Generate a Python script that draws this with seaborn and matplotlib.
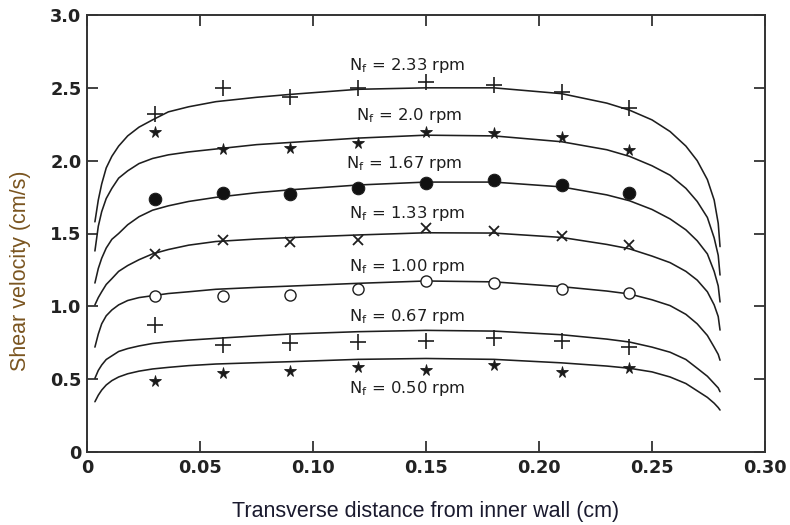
import numpy as np
import pandas as pd
import matplotlib
matplotlib.use("Agg")
import matplotlib.pyplot as plt
import seaborn as sns

# Model profiles of shear velocity across the annular gap (cm, cm/s)
curve_x = [0.0035, 0.005, 0.0065, 0.0085, 0.011, 0.014, 0.018, 0.023, 0.029,
           0.036, 0.045, 0.057, 0.075, 0.09, 0.12, 0.15, 0.18, 0.21, 0.23,
           0.24, 0.25, 0.258, 0.265, 0.27, 0.2745, 0.2775, 0.2793, 0.2801]

curve_233 = [1.58, 1.73, 1.84, 1.95, 2.03, 2.10, 2.17, 2.23, 2.28, 2.335, 2.37,
             2.405, 2.435, 2.455, 2.49, 2.50, 2.50, 2.46, 2.395, 2.347, 2.28,
             2.20, 2.10, 2.00, 1.87, 1.73, 1.57, 1.41]
curve_200 = [1.38, 1.55, 1.65, 1.74, 1.81, 1.88, 1.93, 1.98, 2.015, 2.04, 2.06,
             2.08, 2.11, 2.125, 2.155, 2.175, 2.17, 2.13, 2.075, 2.03, 1.965,
             1.90, 1.81, 1.72, 1.61, 1.47, 1.35, 1.215]
curve_167 = [1.16, 1.26, 1.33, 1.40, 1.46, 1.50, 1.56, 1.615, 1.66, 1.69, 1.72,
             1.748, 1.78, 1.80, 1.833, 1.853, 1.853, 1.82, 1.765, 1.725, 1.665,
             1.60, 1.525, 1.45, 1.36, 1.24, 1.14, 1.03]
curve_133 = [1.01, 1.06, 1.10, 1.15, 1.19, 1.24, 1.28, 1.32, 1.36, 1.39, 1.42,
             1.445, 1.462, 1.472, 1.49, 1.505, 1.503, 1.473, 1.425, 1.395, 1.345,
             1.30, 1.24, 1.18, 1.10, 1.01, 0.93, 0.837]
curve_100 = [0.72, 0.81, 0.88, 0.935, 0.975, 1.01, 1.04, 1.06, 1.073, 1.088, 1.10,
             1.117, 1.13, 1.139, 1.158, 1.174, 1.168, 1.135, 1.105, 1.085, 1.045,
             1.005, 0.945, 0.88, 0.80, 0.72, 0.67, 0.63]
curve_067 = [0.506, 0.56, 0.597, 0.635, 0.66, 0.69, 0.71, 0.728, 0.745, 0.757,
             0.768, 0.78, 0.797, 0.81, 0.826, 0.835, 0.83, 0.805, 0.775, 0.755,
             0.72, 0.685, 0.635, 0.575, 0.52, 0.47, 0.44, 0.414]
curve_050 = [0.345, 0.39, 0.425, 0.46, 0.49, 0.515, 0.537, 0.555, 0.57, 0.581,
             0.593, 0.604, 0.613, 0.62, 0.636, 0.642, 0.636, 0.612, 0.59, 0.575,
             0.55, 0.515, 0.47, 0.42, 0.375, 0.335, 0.305, 0.288]

# Measured shear velocities (cm/s) at each transverse position (cm)
meas_x = [0.03, 0.06, 0.09, 0.12, 0.15, 0.18, 0.21, 0.24]
meas_233 = [2.32, 2.50, 2.44, 2.50, 2.54, 2.52, 2.47, 2.36]
meas_200 = [2.20, 2.08, 2.09, 2.12, 2.20, 2.19, 2.16, 2.07]
meas_167 = [1.74, 1.78, 1.77, 1.81, 1.85, 1.87, 1.83, 1.78]
meas_133 = [1.36, 1.455, 1.445, 1.455, 1.537, 1.52, 1.483, 1.42]
meas_100 = [1.07, 1.07, 1.077, 1.117, 1.174, 1.162, 1.117, 1.09]
meas_067 = [0.87, 0.734, 0.75, 0.757, 0.764, 0.78, 0.762, 0.72]
meas_050 = [0.49, 0.544, 0.558, 0.586, 0.563, 0.597, 0.551, 0.574]

speeds = ["2.33", "2.0", "1.67", "1.33", "1.00", "0.67", "0.50"]
label_x = [0.1415, 0.1425, 0.1405, 0.1415, 0.1415, 0.1415, 0.1415]
label_y = [2.656, 2.313, 1.983, 1.638, 1.272, 0.929, 0.437]

curves = [curve_233, curve_200, curve_167, curve_133, curve_100, curve_067, curve_050]
measured = [meas_233, meas_200, meas_167, meas_133, meas_100, meas_067, meas_050]

# marker, size, face colour, edge width for each speed
styles = [
    ("+", 11, "#1a1a1a", 1.2),
    ("*", 8.5, "#1a1a1a", 0.6),
    ("o", 9, "#111111", 0.8),
    ("x", 6.5, "#1a1a1a", 1.3),
    ("o", 8, "white", 1.0),
    ("+", 11, "#1a1a1a", 1.2),
    ("*", 8.5, "#1a1a1a", 0.6),
]

curve_df = pd.concat(
    [pd.DataFrame({"x": curve_x, "v": c, "speed": s}) for c, s in zip(curves, speeds)],
    ignore_index=True)
meas_df = pd.concat(
    [pd.DataFrame({"x": meas_x, "v": m, "speed": s}) for m, s in zip(measured, speeds)],
    ignore_index=True)

sns.set_style("ticks")
plt.rcParams["font.family"] = ["DejaVu Sans"]
plt.rcParams["mathtext.default"] = "regular"

fig = plt.figure(figsize=(7.9, 5.25), dpi=100)
ax = fig.add_axes([87 / 790, 1 - 452 / 525, 678 / 790, 437 / 525])

ink = "#1e1e1e"
sns.lineplot(data=curve_df, x="x", y="v", units="speed", estimator=None,
             color=ink, lw=1.15, sort=False, ax=ax)

for s, (mk, ms, fc, mew) in zip(speeds, styles):
    sub = meas_df[meas_df["speed"] == s]
    ax.plot(sub["x"], sub["v"], ls="none", marker=mk, ms=ms, mfc=fc, mec=ink,
            mew=mew, zorder=3)

for s, lx, ly in zip(speeds, label_x, label_y):
    ax.text(lx, ly, r"N$_{f}$ = " + s + " rpm", ha="center", va="center",
            fontsize=11.8, color=ink)

ax.set_xlim(0, 0.30)
ax.set_ylim(0, 3.0)
ax.set_xticks([0, 0.05, 0.10, 0.15, 0.20, 0.25, 0.30])
ax.set_xticklabels(["0", "0.05", "0.10", "0.15", "0.20", "0.25", "0.30"])
ax.set_yticks([0, 0.5, 1.0, 1.5, 2.0, 2.5, 3.0])
ax.set_yticklabels(["0", "0.5", "1.0", "1.5", "2.0", "2.5", "3.0"])
ax.tick_params(direction="in", length=8, width=1.3, color="#333333",
               labelsize=12.8, labelcolor="#222222", top=True, right=True,
               labeltop=False, labelright=False)
ax.tick_params(axis="x", pad=5)
ax.tick_params(axis="y", pad=4)
for lab in ax.get_xticklabels() + ax.get_yticklabels():
    lab.set_fontweight("bold")
for sp in ax.spines.values():
    sp.set_visible(True)
    sp.set_linewidth(1.4)
    sp.set_color("#333333")

ax.set_xlabel("Transverse distance from inner wall (cm)", fontsize=15.5,
              color="#1a1a2e", labelpad=17, family=["Liberation Sans"])
ax.set_ylabel("Shear velocity (cm/s)", fontsize=15.5, color="#7a5520",
              family=["Liberation Sans"])
ax.yaxis.set_label_coords(-0.082, 0.415)

fig.savefig("out.png", dpi=100)
